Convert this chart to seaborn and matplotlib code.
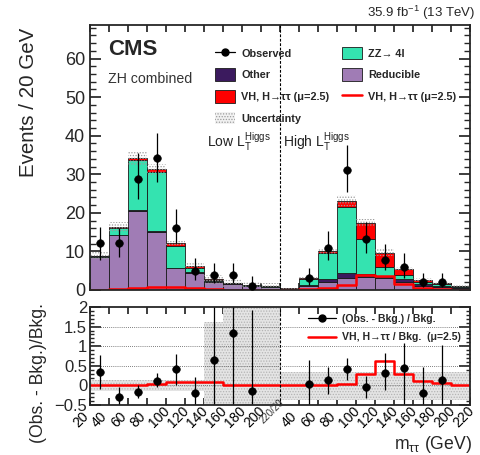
import numpy as np
import pandas as pd
import matplotlib
matplotlib.use("Agg")
import matplotlib.pyplot as plt
import seaborn as sns
from matplotlib.lines import Line2D
from matplotlib.patches import Patch
from matplotlib.ticker import MultipleLocator, FixedLocator, FixedFormatter

# ---------------- data (20 bins: 10 low-LT bins followed by 10 high-LT bins) ----------------
mass_labels_low = ["20", "40", "60", "80", "100", "120", "140", "160", "180", "200"]
mass_labels_high = ["40", "60", "80", "100", "120", "140", "160", "180", "200", "220"]
join_label = "220/20"

reducible = [8.5, 14.2, 20.6, 15.1, 5.6, 4.5, 2.2, 1.6, 1.0, 0.8,
             0.2, 1.0, 2.0, 3.0, 3.4, 3.0, 2.2, 1.0, 0.8, 0.6]
other = [0.1, 0.1, 0.1, 0.1, 0.1, 0.2, 0.1, 0.1, 0.1, 0.1,
         0.1, 0.4, 0.8, 1.4, 0.7, 0.6, 0.7, 0.5, 0.3, 0.2]
zz4l = [0.1, 1.9, 12.9, 15.3, 5.7, 1.0, 0.3, 0.1, 0.1, 0.05,
        0.05, 1.4, 6.7, 17.2, 9.2, 2.4, 1.0, 0.6, 0.4, 0.2]
vh_signal = [0.1, 0.2, 0.5, 0.8, 0.8, 0.5, 0.2, 0.1, 0.05, 0.05,
             0.05, 0.2, 0.5, 1.4, 4.0, 3.7, 1.5, 0.5, 0.2, 0.1]
bkg_unc = [1.0, 1.3, 1.9, 1.4, 0.8, 0.8, 1.2, 1.0, 0.8, 0.8,
           0.3, 0.5, 0.8, 1.5, 1.0, 0.8, 0.6, 0.5, 0.4, 0.4]

observed = [12.1, 12.1, 28.9, 34.1, 16.0, 5.0, 3.9, 3.9, 1.1, np.nan,
            np.nan, 3.0, 11.0, 31.1, 13.1, 7.9, 6.0, 2.2, 2.0, np.nan]
observed_lo = [7.8, 8.6, 23.7, 28.0, 12.3, 2.6, 1.7, 1.7, 0.0, np.nan,
               np.nan, 1.3, 7.8, 25.5, 9.5, 5.2, 3.0, 0.9, 0.8, np.nan]
observed_hi = [16.4, 16.0, 35.4, 40.8, 20.9, 8.2, 6.9, 6.9, 3.5, np.nan,
               np.nan, 5.6, 15.4, 37.7, 17.7, 11.9, 9.5, 4.3, 4.3, np.nan]

# ratio panel
ratio_obs = [0.35, -0.29, -0.16, 0.11, 0.41, -0.19, 0.66, 1.34, -0.15, np.nan,
             np.nan, 0.03, 0.14, 0.43, -0.05, 0.32, 0.45, -0.20, 0.14, np.nan]
ratio_lo = [-0.08, -0.50, -0.33, -0.03, 0.01, -0.50, -0.60, -0.60, -0.60, np.nan,
            np.nan, -0.60, -0.23, 0.15, -0.31, -0.12, -0.60, -0.60, -0.60, np.nan]
ratio_hi = [0.77, -0.05, 0.01, 0.31, 0.80, 0.22, 2.10, 2.10, 1.93, np.nan,
            np.nan, 0.66, 0.48, 0.69, 0.24, 0.82, 1.07, 0.46, 1.03, np.nan]
ratio_signal = [0.0, 0.0, 0.02, 0.04, 0.09, 0.09, 0.08, 0.0, 0.0, 0.0,
                0.0, 0.0, 0.0, 0.04, 0.30, 0.62, 0.30, 0.11, 0.05, 0.0]
ratio_unc_lo = [-0.15, -0.15, -0.15, -0.15, -0.15, -0.15, -1.0, -1.0, -1.0, -1.0,
                -0.37, -0.37, -0.37, -0.37, -0.37, -0.37, -0.37, -0.37, -0.37, -0.37]
ratio_unc_hi = [0.15, 0.15, 0.15, 0.15, 0.15, 0.15, 1.62, 3.0, 3.0, 3.0,
                0.35, 0.35, 0.35, 0.35, 0.35, 0.35, 0.35, 0.35, 0.35, 0.35]

# ---------------- style ----------------
sns.set_theme(style="ticks")
plt.rcParams["font.family"] = ["Liberation Sans", "DejaVu Sans"]
plt.rcParams["mathtext.fontset"] = "custom"
plt.rcParams["mathtext.rm"] = "Liberation Sans"
plt.rcParams["mathtext.it"] = "Liberation Sans:italic"
plt.rcParams["hatch.linewidth"] = 0.6

c_zz = "#34e3b0"
c_other = "#3b1a5e"
c_red = "#ff0000"
c_reducible = "#a07cb5"

PX = 0.72  # points per pixel at 100 dpi

nbins = len(reducible)
edges = np.arange(nbins + 1)
centers = edges[:-1] + 0.5
hist_bins = dict(bins=nbins, binrange=(0, nbins))

fig = plt.figure(figsize=(4.8, 4.55), dpi=100)
ax = fig.add_axes([90 / 480, (455 - 290) / 455, 380 / 480, 265 / 455])
rax = fig.add_axes([90 / 480, (455 - 405) / 455, 380 / 480, 98 / 455])

# ---------------- stacked backgrounds + signal ----------------
stack = pd.concat([
    pd.DataFrame({"pos": centers, "events": vh_signal, "process": "VH"}),
    pd.DataFrame({"pos": centers, "events": zz4l, "process": "ZZ"}),
    pd.DataFrame({"pos": centers, "events": other, "process": "Other"}),
    pd.DataFrame({"pos": centers, "events": reducible, "process": "Reducible"}),
], ignore_index=True)
sns.histplot(data=stack, x="pos", weights="events", hue="process",
             hue_order=["VH", "ZZ", "Other", "Reducible"], multiple="stack",
             element="bars", alpha=1, edgecolor="#1a1a1a", linewidth=0.6,
             palette={"VH": c_red, "ZZ": c_zz, "Other": c_other, "Reducible": c_reducible},
             legend=False, ax=ax, **hist_bins)

total = np.array(reducible) + np.array(other) + np.array(zz4l) + np.array(vh_signal)
unc = np.array(bkg_unc)
ax.fill_between(edges, np.r_[total - unc, (total - unc)[-1]], np.r_[total + unc, (total + unc)[-1]],
                step="post", facecolor="none", hatch="......", edgecolor="#9c9c9c", linewidth=0)

sns.histplot(x=centers, weights=vh_signal, element="step", fill=False,
             color=c_red, linewidth=1.8, ax=ax, **hist_bins)

obs = np.array(observed)
ax.errorbar(centers, obs, yerr=[obs - np.array(observed_lo), np.array(observed_hi) - obs],
            fmt="none", ecolor="black", elinewidth=0.9, capsize=0)
sns.scatterplot(x=centers, y=obs, color="black", s=30, edgecolor="black", ax=ax, zorder=5)

ax.axvline(10, color="black", linestyle=(0, (2.5, 1.5)), linewidth=0.8)

ax.set_xlim(0, nbins)
ax.set_ylim(0, 68.7)
ax.set_xlabel("")
ax.set_ylabel("Events / 20 GeV", fontsize=14.8, loc="top")
ax.yaxis.set_label_coords(-0.137, 0.99)
ax.yaxis.set_major_locator(MultipleLocator(10))
ax.yaxis.set_minor_locator(MultipleLocator(2))
ax.xaxis.set_major_locator(FixedLocator(edges))
ax.tick_params(axis="both", which="both", direction="in", top=True, right=True)
ax.tick_params(axis="x", labelbottom=False, length=5)
ax.tick_params(axis="y", which="major", length=8, labelsize=13)
ax.tick_params(axis="y", which="minor", length=4)
for s in ax.spines.values():
    s.set_linewidth(1.3)

ax.text(0.047, 0.906, "CMS", transform=ax.transAxes, fontsize=16, fontweight="bold",
        va="center", ha="left")
ax.text(0.047, 0.796, "ZH combined", transform=ax.transAxes, fontsize=10.2, va="center",
        ha="left", color="#333333")
ax.text(9.5, 38.2, r"Low L$_{\mathregular{T}}^{\mathregular{Higgs}}$", fontsize=10,
        ha="right", va="center", color="#222222")
ax.text(10.16, 38.2, r"High L$_{\mathregular{T}}^{\mathregular{Higgs}}$", fontsize=10,
        ha="left", va="center", color="#222222")

vh_label = "VH, H\u2192\u03c4\u03c4 (\u03bc=2.5)"
legend_style = dict(frameon=False, prop={"weight": "bold", "size": 7.8}, handlelength=1.85,
                    handleheight=1.4, labelspacing=0.85, handletextpad=0.55,
                    borderpad=0, borderaxespad=0, loc="upper left")
col1 = ax.legend(
    [Line2D([], [], color="black", marker="o", markersize=5, linewidth=0.9),
     Patch(facecolor=c_other, edgecolor="#1a1a1a", linewidth=0.6),
     Patch(facecolor=c_red, edgecolor="#1a1a1a", linewidth=0.6),
     Patch(facecolor="#f2f2f2", hatch="......", edgecolor="#9c9c9c", linewidth=0)],
    ["Observed", "Other", vh_label, "Uncertainty"],
    bbox_to_anchor=(0.33, 0.918), **legend_style)
ax.add_artist(col1)
ax.legend(
    [Patch(facecolor=c_zz, edgecolor="#1a1a1a", linewidth=0.6),
     Patch(facecolor=c_reducible, edgecolor="#1a1a1a", linewidth=0.6),
     Line2D([], [], color=c_red, linewidth=1.8)],
    ["ZZ\u2192 4l", "Reducible", vh_label],
    bbox_to_anchor=(0.663, 0.918), **legend_style)

fig.text(475 / 480, 1 - 13 / 455, r"35.9 fb$^{-1}$ (13 TeV)", ha="right", va="center",
         fontsize=9.5)

# ---------------- ratio panel ----------------
rlo = np.array(ratio_unc_lo)
rhi = np.array(ratio_unc_hi)
rax.fill_between(edges, np.r_[rlo, rlo[-1]], np.r_[rhi, rhi[-1]], step="post",
                 facecolor="#e4e4e4", hatch="......", edgecolor="#b4b4b4", linewidth=0)

for yg in [0.0, 0.5, 1.0, 1.5]:
    rax.axhline(yg, color="#555555", linestyle=(0, (1, 1.5)), linewidth=0.6, zorder=1)

sns.histplot(x=centers, weights=ratio_signal, element="step", fill=False,
             color=c_red, linewidth=1.8, ax=rax, **hist_bins)

robs = np.array(ratio_obs)
rax.errorbar(centers, robs, yerr=[robs - np.array(ratio_lo), np.array(ratio_hi) - robs],
             fmt="none", ecolor="black", elinewidth=0.9, capsize=0)
sns.scatterplot(x=centers, y=robs, color="black", s=30, edgecolor="black", ax=rax, zorder=5)

rax.axvline(10, color="black", linestyle=(0, (2.5, 1.5)), linewidth=0.8)

rax.set_xlim(0, nbins)
rax.set_ylim(-0.5, 2.0)
rax.set_ylabel("(Obs. - Bkg.)/Bkg.", fontsize=12.7, loc="top")
rax.yaxis.set_label_coords(-0.113, 1.04)
rax.yaxis.set_major_locator(FixedLocator([-0.5, 0, 0.5, 1, 1.5, 2]))
rax.yaxis.set_major_formatter(FixedFormatter(["\u22120.5", "0", "0.5", "1", "1.5", "2"]))
rax.yaxis.set_minor_locator(MultipleLocator(0.1))
rax.xaxis.set_major_locator(FixedLocator(edges))
rax.tick_params(axis="both", which="both", direction="in", top=True, right=True)
rax.tick_params(axis="x", length=5, labelbottom=False)
rax.tick_params(axis="y", which="major", length=8, labelsize=12, pad=2)
rax.tick_params(axis="y", which="minor", length=3)
for s in rax.spines.values():
    s.set_linewidth(1.3)

# rotated mass labels: each starts below-left of its bin edge and rises toward the axis
tick_texts = mass_labels_low + [join_label] + mass_labels_high
for xe, txt in zip(edges, tick_texts):
    small = txt == join_label
    rax.annotate(txt, xy=(xe, 0), xycoords=("data", "axes fraction"),
                 xytext=((-15 if small else -10) * PX, (-20 if small else -25) * PX),
                 textcoords="offset points", rotation=45, rotation_mode="anchor",
                 ha="left", va="bottom", fontsize=7 if small else 10,
                 color="#333333" if small else "black")

rax.set_xlabel(r"m$_{\mathregular{\tau\tau}}$ (GeV)", fontsize=12.7, loc="right")
rax.xaxis.set_label_coords(1.005, -0.3)

rax.legend([Line2D([], [], color="black", marker="o", markersize=5, linewidth=0.9),
            Line2D([], [], color=c_red, linewidth=1.8)],
           ["(Obs. - Bkg.) / Bkg.", "VH, H\u2192\u03c4\u03c4 / Bkg.  (\u03bc=2.5)"],
           loc="upper left", bbox_to_anchor=(0.574, 0.93), frameon=False,
           prop={"weight": "bold", "size": 7.6}, handlelength=2.6, labelspacing=0.8,
           handletextpad=0.65, borderpad=0, borderaxespad=0)

fig.savefig("out.png", dpi=100)
